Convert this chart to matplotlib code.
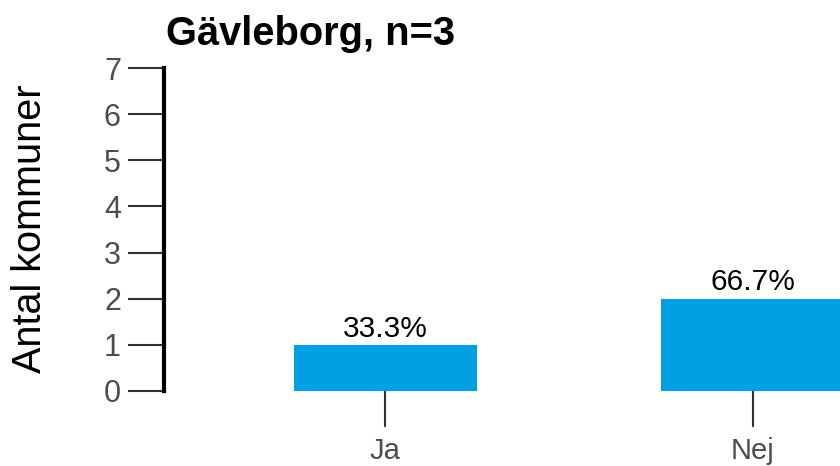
import matplotlib.pyplot as plt

plt.rcParams['font.family'] = ['Liberation Sans', 'DejaVu Sans']

categories = ["Ja", "Nej"]
counts = [1, 2]
percent_labels = ["33.3%", "66.7%"]
title = "Gävleborg, n=3"
y_label = "Antal kommuner"
y_ticks = [0, 1, 2, 3, 4, 5, 6, 7]

bar_color = "#009FE3"

fig = plt.figure(figsize=(8.4, 4.66), dpi=100)
ax = fig.add_axes([164 / 840, 1 - 391 / 466, 1 - 164 / 840, (391 - 68) / 466])

x = list(range(len(categories)))
ax.bar(x, counts, width=0.5, color=bar_color, zorder=2)

for xi, c, lab in zip(x, counts, percent_labels):
    ax.annotate(lab, (xi, c), xytext=(0, 6), textcoords="offset points",
                ha="center", va="baseline", fontsize=21.5, color="black")

ax.set_xlim(-0.603, 1.238)
ax.set_ylim(0, 7)
ax.set_yticks(y_ticks)
ax.set_xticks(x)
ax.set_xticklabels(categories)

for s in ["top", "right", "bottom"]:
    ax.spines[s].set_visible(False)
ax.spines["left"].set_linewidth(3)
ax.spines["left"].set_color("black")

ax.tick_params(axis="y", length=26, width=1.5, color="#333333",
               labelsize=22, labelcolor="#4d4d4d", pad=5)
ax.tick_params(axis="x", length=26, width=1.5, color="#333333",
               labelsize=21, labelcolor="#4d4d4d", pad=7)

fig.text(11 / 840, 1 - 229 / 466, y_label, rotation=90, ha="left", va="center",
         fontsize=28.5, color="black")
fig.text(166 / 840, 1 - 45 / 466, title, ha="left", va="baseline",
         fontsize=28.7, fontweight="bold", color="black")

fig.savefig("out.png", dpi=100)
